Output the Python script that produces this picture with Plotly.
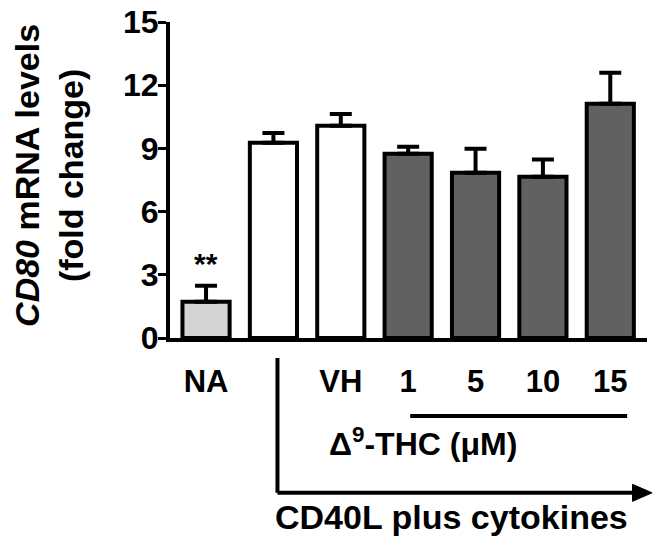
import plotly.graph_objects as go

groups = ["NA", "", "VH", "1", "5", "10", "15"]
means = [1.72, 9.27, 10.07, 8.75, 7.85, 7.66, 11.12]
sem = [0.76, 0.46, 0.56, 0.33, 1.13, 0.81, 1.47]
fills = ["#d4d4d4", "#ffffff", "#ffffff", "#616161", "#616161", "#616161", "#616161"]

xpos = list(range(len(groups)))
xmin, xmax = -0.535, 6.545
FONT = "Liberation Sans"


def xp(v):
    # data x -> paper x
    return (v - xmin) / (xmax - xmin)


fig = go.Figure()
fig.add_trace(go.Bar(
    x=xpos, y=means, width=0.7,
    marker=dict(color=fills, line=dict(color="black", width=4)),
    error_y=dict(type="data", array=sem, arrayminus=[0] * len(sem), symmetric=False,
                 color="black", thickness=4, width=11),
))

fig.update_layout(
    width=664, height=545,
    margin=dict(l=170, r=17, t=22, b=207),
    plot_bgcolor="white", paper_bgcolor="white",
    showlegend=False,
    font=dict(family=FONT, color="black"),
    xaxis=dict(range=[xmin, xmax], tickvals=xpos, ticktext=groups, ticks="", automargin=False,
               showline=True, linewidth=4, linecolor="black", showgrid=False, zeroline=False,
               tickfont=dict(size=31, weight="bold"), ticklabelstandoff=13),
    yaxis=dict(range=[0, 15], tickvals=[0, 3, 6, 9, 12, 15], ticks="outside", ticklen=8,
               tickwidth=3, tickcolor="black", showline=True, linewidth=4, linecolor="black",
               automargin=False, showgrid=False, zeroline=False, ticklabeloverflow="allow",
               tickfont=dict(size=32, weight="bold"), ticklabelstandoff=-7),
)

# y-axis title
fig.add_annotation(xref="paper", yref="paper", x=0, y=0.513, xshift=-121, showarrow=False,
                   textangle=-90, xanchor="center", yanchor="middle",
                   text="<b><i>CD80</i> mRNA levels<br>(fold change)</b>",
                   font=dict(size=34))

# significance
fig.add_annotation(x=0, y=means[0] + sem[0], yshift=4, showarrow=False, yanchor="bottom",
                   text="<b>**</b>", font=dict(size=30))

# THC bracket line and label
fig.add_shape(type="line", xref="paper", yref="paper", x0=xp(3.03), x1=xp(6.25),
              y0=-0.247, y1=-0.247, line=dict(color="black", width=4))
fig.add_annotation(xref="paper", yref="paper", x=xp(4.65), y=-0.33, showarrow=False,
                   yanchor="middle", text="<b>Δ<sup>9</sup>-THC (μM)</b>", font=dict(size=32))

# CD40L arrow
fig.add_shape(type="line", xref="paper", yref="paper", x0=xp(1.06), x1=xp(1.06),
              y0=-0.063, y1=-0.49, line=dict(color="black", width=4))
fig.add_shape(type="line", xref="paper", yref="paper", x0=xp(1.06), x1=xp(6.4),
              y0=-0.49, y1=-0.49, line=dict(color="black", width=4))
tip, base = xp(6.62), xp(6.33)
fig.add_shape(type="path", xref="paper", yref="paper",
              path=f"M {base},-0.463 L {tip},-0.49 L {base},-0.517 Z",
              fillcolor="black", line=dict(color="black", width=1))
fig.add_annotation(xref="paper", yref="paper", x=xp(3.65), y=-0.565, showarrow=False,
                   yanchor="middle", text="<b>CD40L plus cytokines</b>", font=dict(size=34))

# drop the default 8px page margin so the figure fills the window
fig.write_html("out.html", config={"displayModeBar": False},
               post_script="document.body.style.margin='0px';")
